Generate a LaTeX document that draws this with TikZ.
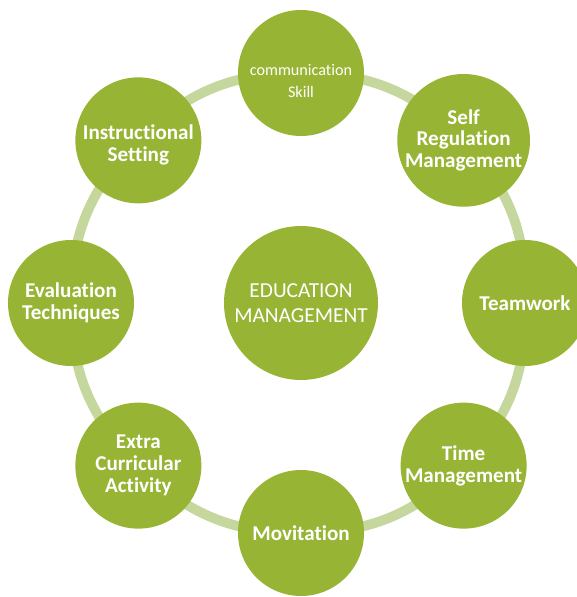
\documentclass[tikz,border=0pt]{standalone}
\usepackage{fontspec}
\setmainfont{Carlito}[Ligatures=NoCommon]
\usetikzlibrary{backgrounds}
\definecolor{leafgreen}{RGB}{152,180,52}
\definecolor{palegreen}{RGB}{197,215,157}
\tikzset{
  topic/.style={
    circle,
    fill=leafgreen,
    text=white,
    minimum size=3.15cm,
    inner sep=0pt,
    align=center,
    font=\bfseries\fontsize{15}{15.6}\selectfont
  },
  hub/.style={
    topic,
    minimum size=3.85cm,
    font=\fontsize{15.2}{17.8}\selectfont
  },
  ring/.style={palegreen, line width=7pt}
}
% lower the lines but keep the box size, so the node stays centred
\newcommand{\lowstack}[2]{\raisebox{-#1}[\height][\depth]{\begin{tabular}{@{}c@{}}#2\end{tabular}}}

\begin{document}
\begin{tikzpicture}
  \useasboundingbox (-7.525,-7.35) rectangle (6.875,7.575);

  % the hub in the middle
  \node[hub] (hub) at (0,0) {EDUCATION\\MANAGEMENT};

  % the eight topics round it
  \node[topic, font=\fontsize{11.5}{15.6}\selectfont] (comm) at (90:5.75)
    {\lowstack{0.22cm}{communication\\Skill}};
  \node[topic] (selfreg) at (45:5.75) {Self\\Regulation\\Management};
  \node[topic] (team) at (0:5.6) {Teamwork};
  \node[topic] (time) at (-45:5.75) {Time\\Management};
  \node[topic] (motiv) at (-90:5.75) {Movitation};
  \node[topic] (extra) at (-135:5.75) {Extra\\Curricular\\Activity};
  \node[topic] (eval) at (180:5.75) {Evaluation\\Techniques};
  \node[topic] (instr) at (135:5.75) {\lowstack{0.15cm}{Instructional\\Setting}};

  % the band that links them
  \begin{scope}[on background layer]
    \foreach \a/\b in {comm/selfreg, selfreg/team, team/time, time/motiv,
                       motiv/extra, extra/eval, eval/instr, instr/comm}
      \draw[ring] (\a.center) to[bend left=22.5] (\b.center);
  \end{scope}
\end{tikzpicture}
\end{document}
